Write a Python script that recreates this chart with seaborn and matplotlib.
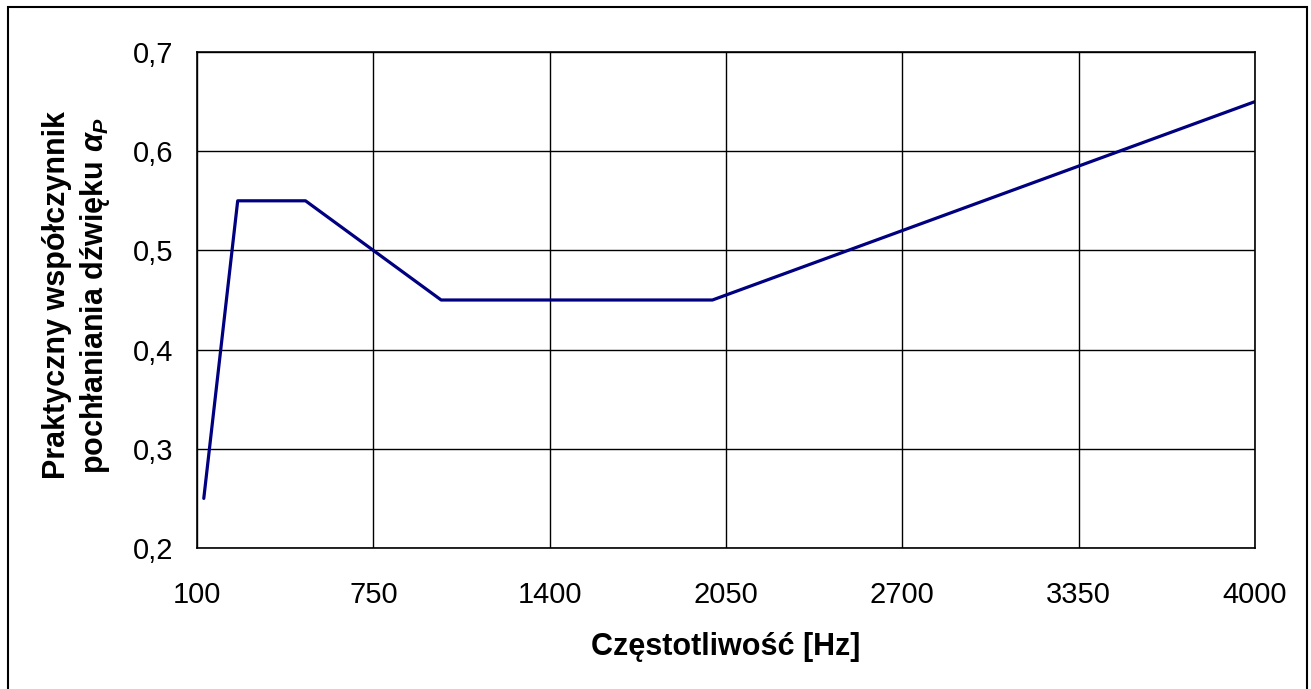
import pandas as pd
import matplotlib
matplotlib.use("Agg")
import matplotlib.pyplot as plt
import matplotlib.ticker as mticker
from matplotlib.patches import Rectangle
import seaborn as sns

# Dane
czestotliwosc = [125, 250, 500, 1000, 2000, 4000]
alfa_p = [0.25, 0.55, 0.55, 0.45, 0.45, 0.65]
x_ticks = [100, 750, 1400, 2050, 2700, 3350, 4000]
y_ticks = [0.2, 0.3, 0.4, 0.5, 0.6, 0.7]

df = pd.DataFrame({"Hz": czestotliwosc, "alfa": alfa_p})

sns.set_style("white")
plt.rcParams["font.family"] = ["Liberation Sans", "DejaVu Sans"]
plt.rcParams["mathtext.fontset"] = "custom"
plt.rcParams["mathtext.it"] = "Liberation Sans:italic:bold"
plt.rcParams["mathtext.rm"] = "Liberation Sans:bold"
plt.rcParams["text.color"] = "black"
plt.rcParams["axes.labelcolor"] = "black"
plt.rcParams["xtick.color"] = "black"
plt.rcParams["ytick.color"] = "black"

fig = plt.figure(figsize=(13.11, 6.89), dpi=100)
ax = fig.add_axes([197 / 1311, 1 - 548 / 689, (1255 - 197) / 1311, (548 - 52) / 689])

sns.lineplot(data=df, x="Hz", y="alfa", color="#000080", linewidth=2.3, ax=ax)

ax.set_xlim(100, 4000)
ax.set_ylim(0.2, 0.7)
ax.set_xticks(x_ticks)
ax.set_yticks(y_ticks)
ax.yaxis.set_major_formatter(mticker.FuncFormatter(lambda v, p: f"{v:.1f}".replace(".", ",")))
ax.grid(True, color="black", linewidth=1)
for s in ax.spines.values():
    s.set_color("black")
    s.set_linewidth(1.2)
ax.tick_params(direction="out", length=7, width=1, color="black", labelsize=21,
               labelcolor="black")
ax.tick_params(axis="y", pad=10)
ax.tick_params(axis="x", pad=17)

ax.set_xlabel("Częstotliwość [Hz]", fontsize=22, fontweight="bold", color="black")
ax.xaxis.set_label_coords(0.5, -0.169)
ax.set_ylabel("Praktyczny współczynnik\npochłaniania dźwięku $\\alpha_P$",
              fontsize=22, fontweight="bold", linespacing=1.25, color="black")
ax.yaxis.set_label_coords(-0.080, 0.51)

# ramka wykresu
fig.patches.append(Rectangle((8 / 1311, -0.05), 1299 / 1311, 1 - 7 / 689 + 0.05,
                             transform=fig.transFigure, fill=False,
                             edgecolor="black", linewidth=1.5))

fig.savefig("out.png", dpi=100)
